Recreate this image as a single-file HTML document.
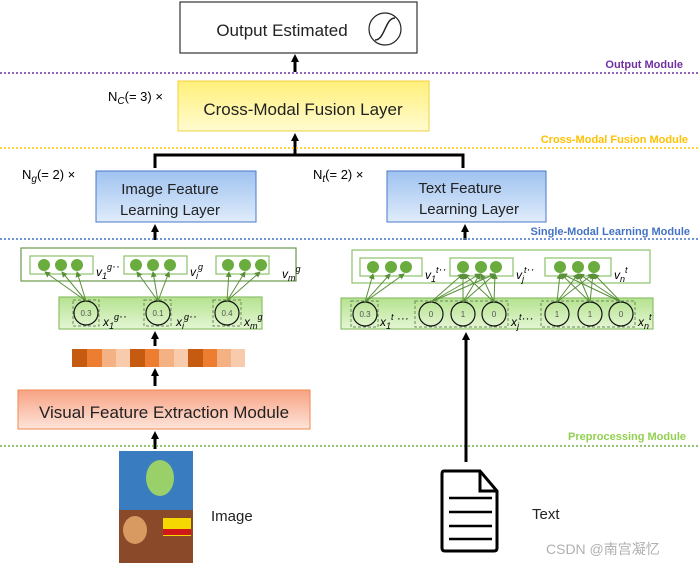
<!DOCTYPE html>
<html><head><meta charset="utf-8"><style>body{margin:0;background:#fff}svg{display:block}text{font-family:"Liberation Sans","Noto Sans CJK SC",sans-serif}</style></head><body>
<svg width="698" height="566" viewBox="0 0 698 566" xmlns="http://www.w3.org/2000/svg">
<defs>
<marker id="ah" markerWidth="8" markerHeight="8" refX="4" refY="4" orient="auto" markerUnits="userSpaceOnUse"><path d="M0,0 L8,4 L0,8 z" fill="#000"/></marker>
<marker id="ga" markerWidth="6" markerHeight="6" refX="5" refY="3" orient="auto" markerUnits="userSpaceOnUse"><path d="M0,0 L6,3 L0,6 z" fill="#5a8f3a"/></marker>
<linearGradient id="yel" x1="0" y1="0" x2="0" y2="1"><stop offset="0" stop-color="#fff07a"/><stop offset="1" stop-color="#fffbd0"/></linearGradient>
<linearGradient id="blu" x1="0" y1="0" x2="0" y2="1"><stop offset="0" stop-color="#9fc2f0"/><stop offset="1" stop-color="#e0ecfb"/></linearGradient>
<linearGradient id="sal" x1="0" y1="0" x2="0" y2="1"><stop offset="0" stop-color="#f8a283"/><stop offset="1" stop-color="#fde4da"/></linearGradient>
<linearGradient id="grn" x1="0" y1="0" x2="0" y2="1"><stop offset="0" stop-color="#b5e28f"/><stop offset="1" stop-color="#e4f6d4"/></linearGradient>
</defs>
<!-- output -->
<rect x="180" y="2" width="237" height="51" fill="#fff" stroke="#333" stroke-width="1.2"/>
<text x="282" y="36" font-size="17" text-anchor="middle" fill="#222">Output Estimated</text>
<circle cx="385" cy="29" r="16" fill="none" stroke="#222" stroke-width="1.2"/>
<path d="M375,40 C385,40 385,18 395,18" fill="none" stroke="#222" stroke-width="1.5"/>
<line x1="295" y1="72" x2="295" y2="58" stroke="#000" stroke-width="3" marker-end="url(#ah)"/>
<line x1="0" y1="73" x2="698" y2="73" stroke="#7030a0" stroke-width="1.5" stroke-dasharray="2,2"/>
<text x="683" y="68" font-size="11" font-weight="bold" fill="#7030a0" text-anchor="end">Output Module</text>
<!-- fusion -->
<rect x="178" y="81" width="251" height="50" fill="url(#yel)" stroke="#f0d040"/>
<text x="303" y="115" font-size="17" text-anchor="middle" fill="#222">Cross-Modal Fusion Layer</text>
<text x="108" y="101" font-size="13" font-family="Liberation Serif" fill="#000">N<tspan font-style="italic" font-size="10" dy="3">C</tspan><tspan dy="-3">(= 3) ×</tspan></text>
<line x1="295" y1="154" x2="295" y2="137" stroke="#000" stroke-width="3" marker-end="url(#ah)"/>
<line x1="0" y1="148" x2="698" y2="148" stroke="#ffc000" stroke-width="1.5" stroke-dasharray="2,2"/>
<text x="688" y="143" font-size="11" font-weight="bold" fill="#ffc000" text-anchor="end">Cross-Modal Fusion Module</text>
<path d="M155,168 V155 H463 V168" fill="none" stroke="#000" stroke-width="3"/>
<!-- single modal -->
<rect x="96" y="171" width="160" height="51" fill="url(#blu)" stroke="#4a78c8"/>
<text x="170" y="194" font-size="15" text-anchor="middle" fill="#222">Image Feature</text>
<text x="170" y="215" font-size="15" text-anchor="middle" fill="#222">Learning Layer</text>
<rect x="387" y="171" width="159" height="51" fill="url(#blu)" stroke="#4a78c8"/>
<text x="460" y="193" font-size="15" text-anchor="middle" fill="#222">Text Feature</text>
<text x="469" y="214" font-size="15" text-anchor="middle" fill="#222">Learning Layer</text>
<text x="22" y="179" font-size="13" font-family="Liberation Serif" fill="#000">N<tspan font-style="italic" font-size="10" dy="3">g</tspan><tspan dy="-3">(= 2) ×</tspan></text>
<text x="313" y="179" font-size="13" font-family="Liberation Serif" fill="#000">N<tspan font-style="italic" font-size="10" dy="3">t</tspan><tspan dy="-3">(= 2) ×</tspan></text>
<line x1="155" y1="240" x2="155" y2="228" stroke="#000" stroke-width="3" marker-end="url(#ah)"/>
<line x1="465" y1="240" x2="465" y2="228" stroke="#000" stroke-width="3" marker-end="url(#ah)"/>
<line x1="0" y1="239" x2="698" y2="239" stroke="#4472c4" stroke-width="1.5" stroke-dasharray="2,2"/>
<text x="690" y="235" font-size="11" font-weight="bold" fill="#4472c4" text-anchor="end">Single-Modal Learning Module</text>
<!-- left v box -->
<rect x="21" y="248" width="275" height="33" fill="#fff" stroke="#6a9a4a" stroke-width="1.2"/>
<g fill="none" stroke="#8cc06a" stroke-width="1.2"><rect x="30" y="256" width="63" height="18"/><rect x="124" y="256" width="63" height="18"/><rect x="216" y="256" width="53" height="18"/></g>
<g fill="#6aac3e"><circle cx="44" cy="265" r="6"/><circle cx="61" cy="265" r="6"/><circle cx="77" cy="265" r="6"/><circle cx="136" cy="265" r="6"/><circle cx="153" cy="265" r="6"/><circle cx="170" cy="265" r="6"/><circle cx="228" cy="265" r="6"/><circle cx="245" cy="265" r="6"/><circle cx="261" cy="265" r="6"/></g>
<g font-family="Liberation Serif" font-style="italic" font-size="12" fill="#000"><text x="96" y="276">v<tspan font-size="9" dy="3">1</tspan><tspan font-size="9" dy="-9">g</tspan><tspan dy="0">··</tspan></text><text x="190" y="276">v<tspan font-size="9" dy="3">i</tspan><tspan font-size="9" dy="-9">g</tspan></text><text x="282" y="278">v<tspan font-size="9" dy="3">m</tspan><tspan font-size="9" dy="-9">g</tspan></text></g>
<!-- left x box -->
<rect x="59" y="297" width="203" height="32" fill="url(#grn)" stroke="#8cc06a" stroke-width="1.2"/>
<g fill="none" stroke="#6a8a5a" stroke-dasharray="3,2"><rect x="73" y="300" width="26" height="26"/><rect x="144" y="300" width="27" height="26"/><rect x="213" y="300" width="28" height="26"/></g>
<g fill="none" stroke="#111" stroke-width="1.2"><circle cx="86" cy="313" r="12"/><circle cx="158" cy="313" r="12"/><circle cx="227" cy="313" r="12"/></g>
<g font-size="8" fill="#555" text-anchor="middle"><text x="86" y="316">0.3</text><text x="158" y="316">0.1</text><text x="227" y="316">0.4</text></g>
<g font-family="Liberation Serif" font-style="italic" font-size="12" fill="#000"><text x="103" y="326">x<tspan font-size="9" dy="3">1</tspan><tspan font-size="9" dy="-9">g</tspan><tspan>··</tspan></text><text x="176" y="326">x<tspan font-size="9" dy="3">i</tspan><tspan font-size="9" dy="-9">g</tspan><tspan>··</tspan></text><text x="244" y="326">x<tspan font-size="9" dy="3">m</tspan><tspan font-size="9" dy="-9">g</tspan></text></g>
<g stroke="#5a8f3a" stroke-width="1" marker-end="url(#ga)"><line x1="86" y1="301" x2="45" y2="272"/><line x1="86" y1="301" x2="62" y2="272"/><line x1="86" y1="301" x2="77" y2="272"/><line x1="158" y1="301" x2="137" y2="272"/><line x1="158" y1="301" x2="153" y2="272"/><line x1="158" y1="301" x2="169" y2="272"/><line x1="227" y1="301" x2="229" y2="272"/><line x1="227" y1="301" x2="245" y2="272"/><line x1="227" y1="301" x2="260" y2="272"/></g>
<line x1="155" y1="346" x2="155" y2="335" stroke="#000" stroke-width="3" marker-end="url(#ah)"/>
<!-- strip -->
<g><rect x="72" y="349" width="15" height="18" fill="#c55a11"/><rect x="87" y="349" width="15" height="18" fill="#ed7d31"/><rect x="102" y="349" width="14" height="18" fill="#f4b183"/><rect x="116" y="349" width="14" height="18" fill="#f8cbad"/><rect x="130" y="349" width="15" height="18" fill="#c55a11"/><rect x="145" y="349" width="14" height="18" fill="#ed7d31"/><rect x="159" y="349" width="15" height="18" fill="#f4b183"/><rect x="174" y="349" width="14" height="18" fill="#f8cbad"/><rect x="188" y="349" width="15" height="18" fill="#c55a11"/><rect x="203" y="349" width="14" height="18" fill="#ed7d31"/><rect x="217" y="349" width="14" height="18" fill="#f4b183"/><rect x="231" y="349" width="14" height="18" fill="#f8cbad"/></g>
<line x1="155" y1="386" x2="155" y2="372" stroke="#000" stroke-width="3" marker-end="url(#ah)"/>
<rect x="18" y="390" width="292" height="39" fill="url(#sal)" stroke="#f08a50"/>
<text x="164" y="418" font-size="17" text-anchor="middle" fill="#222">Visual Feature Extraction Module</text>
<line x1="155" y1="449" x2="155" y2="435" stroke="#000" stroke-width="3" marker-end="url(#ah)"/>
<line x1="0" y1="446" x2="698" y2="446" stroke="#70ad47" stroke-width="1.5" stroke-dasharray="2,2"/>
<text x="686" y="440" font-size="11" font-weight="bold" fill="#92d050" text-anchor="end">Preprocessing Module</text>
<!-- right v box -->
<rect x="352" y="250" width="298" height="33" fill="#fff" stroke="#8cc06a" stroke-width="1.2"/>
<g fill="none" stroke="#8cc06a" stroke-width="1.2"><rect x="360" y="258" width="62" height="18"/><rect x="450" y="258" width="63" height="18"/><rect x="545" y="258" width="66" height="18"/></g>
<g fill="#6aac3e"><circle cx="373" cy="267" r="6"/><circle cx="391" cy="267" r="6"/><circle cx="406" cy="267" r="6"/><circle cx="463" cy="267" r="6"/><circle cx="481" cy="267" r="6"/><circle cx="496" cy="267" r="6"/><circle cx="560" cy="267" r="6"/><circle cx="578" cy="267" r="6"/><circle cx="594" cy="267" r="6"/></g>
<g font-family="Liberation Serif" font-style="italic" font-size="12" fill="#000"><text x="425" y="279">v<tspan font-size="9" dy="3">1</tspan><tspan font-size="9" dy="-9">t</tspan><tspan>··</tspan></text><text x="516" y="279">v<tspan font-size="9" dy="3">j</tspan><tspan font-size="9" dy="-9">t</tspan><tspan>··</tspan></text><text x="614" y="279">v<tspan font-size="9" dy="3">n</tspan><tspan font-size="9" dy="-9">t</tspan></text></g>
<!-- right x box -->
<rect x="341" y="298" width="312" height="31" fill="url(#grn)" stroke="#8cc06a" stroke-width="1.2"/>
<g fill="none" stroke="#6a8a5a" stroke-dasharray="3,2"><rect x="351" y="301" width="27" height="26"/><rect x="415" y="301" width="93" height="26"/><rect x="541" y="301" width="94" height="26"/></g>
<g fill="none" stroke="#111" stroke-width="1.2"><circle cx="365" cy="314" r="12"/><circle cx="431" cy="314" r="12"/><circle cx="463" cy="314" r="12"/><circle cx="494" cy="314" r="12"/><circle cx="557" cy="314" r="12"/><circle cx="590" cy="314" r="12"/><circle cx="621" cy="314" r="12"/></g>
<g font-size="8" fill="#555" text-anchor="middle"><text x="365" y="317">0.3</text><text x="431" y="317">0</text><text x="463" y="317">1</text><text x="494" y="317">0</text><text x="557" y="317">1</text><text x="590" y="317">1</text><text x="621" y="317">0</text></g>
<g font-family="Liberation Serif" font-style="italic" font-size="12" fill="#000"><text x="380" y="326">x<tspan font-size="9" dy="3">1</tspan><tspan font-size="9" dy="-9">t</tspan><tspan dy="2"> ···</tspan></text><text x="511" y="326">x<tspan font-size="9" dy="3">j</tspan><tspan font-size="9" dy="-9">t</tspan><tspan dy="2">···</tspan></text><text x="638" y="326">x<tspan font-size="9" dy="3">n</tspan><tspan font-size="9" dy="-9">t</tspan></text></g>
<g stroke="#5a8f3a" stroke-width="1" marker-end="url(#ga)">
<line x1="365" y1="302" x2="373" y2="274"/><line x1="365" y1="302" x2="390" y2="274"/><line x1="365" y1="302" x2="404" y2="274"/>
<line x1="431" y1="302" x2="463" y2="274"/><line x1="431" y1="302" x2="480" y2="274"/><line x1="431" y1="302" x2="495" y2="274"/>
<line x1="463" y1="302" x2="463" y2="274"/><line x1="463" y1="302" x2="480" y2="274"/><line x1="463" y1="302" x2="495" y2="274"/>
<line x1="494" y1="302" x2="464" y2="274"/><line x1="494" y1="302" x2="481" y2="274"/><line x1="494" y1="302" x2="495" y2="274"/>
<line x1="557" y1="302" x2="560" y2="274"/><line x1="557" y1="302" x2="578" y2="274"/><line x1="557" y1="302" x2="593" y2="274"/>
<line x1="590" y1="302" x2="561" y2="274"/><line x1="590" y1="302" x2="578" y2="274"/><line x1="590" y1="302" x2="593" y2="274"/>
<line x1="621" y1="302" x2="562" y2="274"/><line x1="621" y1="302" x2="579" y2="274"/><line x1="621" y1="302" x2="594" y2="274"/></g>
<line x1="466" y1="462" x2="466" y2="336" stroke="#000" stroke-width="3" marker-end="url(#ah)"/>
<!-- poster -->
<rect x="119" y="451" width="74" height="112" fill="#3a7cc0"/>
<rect x="119" y="510" width="74" height="53" fill="#8a4a2a"/>
<ellipse cx="160" cy="478" rx="14" ry="18" fill="#9ad06a"/>
<rect x="163" y="518" width="28" height="18" fill="#f5d800"/>
<rect x="163" y="529" width="28" height="6" fill="#d01818"/>
<ellipse cx="135" cy="530" rx="12" ry="14" fill="#d89a60"/>
<text x="211" y="521" font-size="15" fill="#222">Image</text>
<!-- doc -->
<path d="M444,471 H480 L497,491 V548 Q497,551 494,551 H445 Q442,551 442,548 V474 Q442,471 444,471 Z" fill="#fff" stroke="#000" stroke-width="3"/>
<path d="M480,471 V491 H497" fill="none" stroke="#000" stroke-width="3"/>
<g stroke="#000" stroke-width="2.5"><line x1="449" y1="498" x2="492" y2="498"/><line x1="449" y1="512" x2="492" y2="512"/><line x1="449" y1="526" x2="492" y2="526"/><line x1="449" y1="539" x2="492" y2="539"/></g>
<text x="532" y="519" font-size="15" fill="#222">Text</text>
<text x="546" y="554" font-size="14" fill="#b0b0b0">CSDN @南宫凝忆</text>
</svg>
</body></html>
